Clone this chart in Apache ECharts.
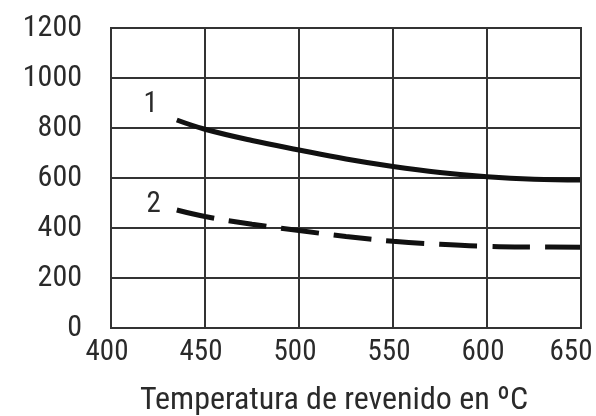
<!DOCTYPE html>
<html>
<head>
<meta charset="utf-8">
<script src="https://cdn.jsdelivr.net/npm/echarts@6/dist/echarts.min.js"></script>
<style>html,body{margin:0;padding:0;background:#fff}#c{width:596px;height:416px}</style>
</head>
<body>
<div id="c"></div>
<script>
const temps = [435, 450, 475, 500, 525, 550, 575, 600, 625, 650];
const curve1 = [832, 795, 750, 712, 676, 646, 622, 605, 595, 592];
const curve2 = [472, 446, 415, 390, 366, 347, 335, 327, 324, 323];
const curveNames = ['1', '2'];
const xTicks = [400, 450, 500, 550, 600, 650];
const yTicks = [0, 200, 400, 600, 800, 1000, 1200];
const xTitle = 'Temperatura de revenido en ºC';

const FONT = '"Liberation Sans Narrow", "Roboto Condensed", "DejaVu Sans Condensed", sans-serif';
const TXT = '#2a2a2a';
const chart = echarts.init(document.getElementById('c'));

function mk(vals, name, dashed, off) {
  return {
    type: 'line', name: name, smooth: 0.4, symbol: 'circle', symbolSize: 0, showSymbol: true,
    itemStyle: { color: '#111' },
    lineStyle: { color: '#111', width: 5, type: dashed ? [38, 15] : 'solid', cap: 'butt' },
    label: { show: false },
    data: vals.map((v, i) => {
      const d = { value: [temps[i], v] };
      if (i === 0) d.label = { show: true, formatter: name, position: 'left', offset: off,
        fontSize: 29, fontFamily: FONT, color: TXT };
      return d;
    }),
    z: 5
  };
}

const lastX = xTicks[xTicks.length - 1];
chart.setOption({
  backgroundColor: '#fff',
  animation: false,
  grid: { left: 111, right: 15, top: 28, bottom: 88, containLabel: false, outerBoundsMode: 'none' },
  xAxis: {
    type: 'value', min: xTicks[0], max: lastX, interval: 50,
    axisLine: { show: true, lineStyle: { color: '#333', width: 2 } },
    axisTick: { show: false },
    splitLine: { show: true, lineStyle: { color: '#333', width: 2 } },
    axisLabel: {
      fontSize: 29, fontFamily: FONT, color: TXT, margin: 10,
      formatter: v => (v === lastX ? '{e|' + v + '}' : '{n|' + v + '}'),
      rich: {
        n: { fontSize: 29, fontFamily: FONT, color: TXT, padding: [0, 8, 0, 0] },
        e: { fontSize: 29, fontFamily: FONT, color: TXT, padding: [0, 20, 0, 0] }
      }
    },
    name: xTitle, nameLocation: 'middle', nameGap: 57,
    nameTextStyle: { fontSize: 32, fontFamily: FONT, color: TXT, padding: [0, 24, 0, 0] }
  },
  yAxis: {
    type: 'value', min: yTicks[0], max: yTicks[yTicks.length - 1], interval: 200,
    axisLine: { show: true, lineStyle: { color: '#333', width: 2 } },
    axisTick: { show: false },
    splitLine: { show: true, lineStyle: { color: '#333', width: 2 } },
    axisLabel: { fontSize: 30, fontFamily: FONT, color: TXT, margin: 29, formatter: v => String(v) }
  },
  graphic: [{
    type: 'rect', shape: { x: 111, y: 28, width: 470, height: 300 },
    style: { fill: 'none', stroke: '#333', lineWidth: 2 }, z: 10, silent: true
  }],
  series: [mk(curve1, curveNames[0], false, [-14, -15]), mk(curve2, curveNames[1], true, [-11, -5])]
});
</script>
</body>
</html>
